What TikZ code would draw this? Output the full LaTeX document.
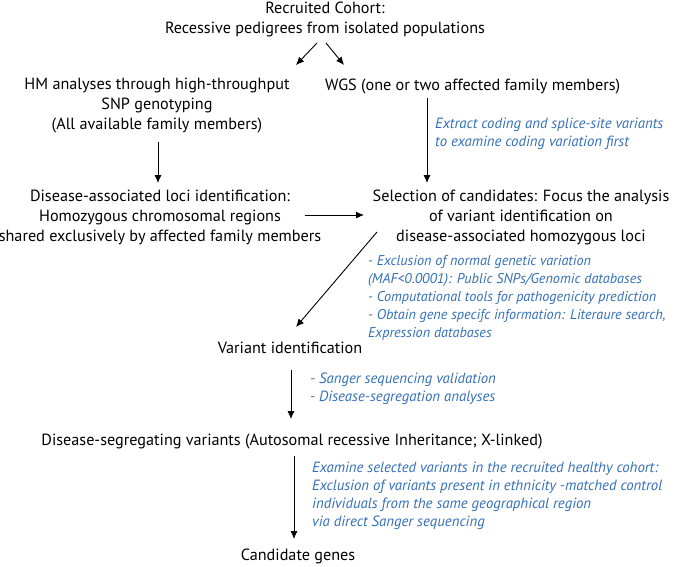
\documentclass[tikz,border=0pt]{standalone}
\usepackage{fontspec}
\setmainfont{PT Sans}
\usetikzlibrary{arrows.meta,calc}
\definecolor{noteblue}{RGB}{52,112,184}
\tikzset{
  txt/.style={inner sep=0pt, align=center, font=\fontsize{16.2}{20}\selectfont, text=black},
  note/.style={inner sep=0pt, align=left, font=\fontsize{14.8}{18.1}\selectfont\itshape, text=noteblue},
  smallnote/.style={note, font=\fontsize{14.2}{18.1}\selectfont\itshape},
  arr/.style={-{Latex[length=8pt,width=7pt]}, line width=0.9pt, black}
}
\begin{document}
\begin{tikzpicture}[x=1pt,y=-1pt]
\useasboundingbox[fill=white] (0,0) rectangle (675,566);
\node[txt] (title) at (325,19) {Recruited Cohort:\\Recessive pedigrees from isolated populations};
\node[txt] (hm) at (157,106) {HM analyses through high-throughput\\SNP genotyping\\(All available family members)};
\node[txt, anchor=west] (wgs) at (325,87) {WGS (one or two affected family members)};
\node[note, anchor=west] (extract) at (435,134) {Extract coding and splice-site variants\\to examine coding variation first};
\node[txt] (dal) at (160,217) {Disease-associated loci identification:\\Homozygous chromosomal regions\\shared exclusively by affected family members};
\node[txt] (sel) at (521,217) {Selection of candidates: Focus the analysis\\of variant identification on\\disease-associated homozygous loci};
\node[smallnote, anchor=west] (excl) at (368,298) {- Exclusion of normal genetic variation\\(MAF<0.0001): Public SNPs/Genomic databases\\- Computational tools for pathogenicity prediction\\- Obtain gene specifc information: Literaure search,\\Expression databases};
\node[txt] (varid) at (290,348) {Variant identification};
\node[note, anchor=west] (sanger) at (310,389) {- Sanger sequencing validation\\- Disease-segregation analyses};
\node[txt] (dsv) at (292,442) {Disease-segregating variants (Autosomal recessive Inheritance; X-linked)};
\node[note, anchor=west] (exam) at (312,495.5) {Examine selected variants in the recruited healthy cohort:\\Exclusion of variants present in ethnicity -matched control\\individuals from the same geographical region\\via direct Sanger sequencing};
\node[txt] (cand) at (298,556) {Candidate genes};
\draw[arr] ($(title.center)+(-8,24)$) -- ($(hm.center)+(139,-41)$);
\draw[arr] ($(title.center)+(1,24)$) -- ($(wgs.west)+(19,-22)$);
\draw[arr] ($(hm.center)+(1,36)$) -- ($(dal.center)+(-2,-34)$);
\draw[arr] ($(wgs.west)+(102,11)$) -- ($(sel.center)+(-94,-34)$);
\draw[arr] ($(dal.center)+(145,-2)$) -- ($(sel.center)+(-157,-2)$);
\draw[arr] ($(sel.center)+(-144,15)$) -- ($(varid.center)+(6,-21)$);
\draw[arr] ($(varid.center)+(1,22)$) -- ($(dsv.center)+(-1,-23)$);
\draw[arr] ($(dsv.center)+(2,14)$) -- ($(cand.center)+(-4,-17)$);
\end{tikzpicture}
\end{document}
